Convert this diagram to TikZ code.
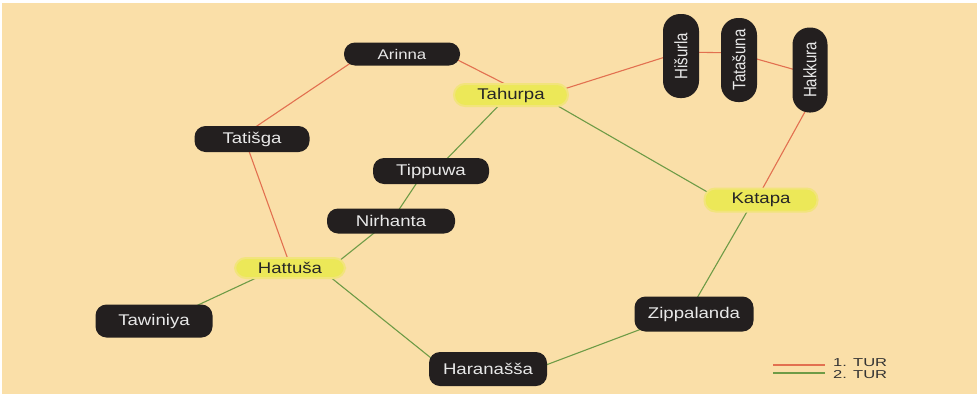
\documentclass[tikz,border=0pt]{standalone}
\usepackage{fontspec}
\usepackage{graphicx}
\setmainfont{Liberation Sans}[FakeStretch=1.2]
\newfontfamily\vfont{Liberation Sans}
\usetikzlibrary{backgrounds}
\definecolor{bg}{RGB}{250,223,168}
\definecolor{boxblk}{RGB}{35,31,31}
\definecolor{boxtxt}{RGB}{232,232,232}
\definecolor{hl}{RGB}{236,232,88}
\definecolor{tur1}{RGB}{226,112,80}
\definecolor{tur2}{RGB}{110,155,70}
\newcommand{\vtxt}[1]{\scalebox{1}[1.2]{\vfont #1}}
\newcommand{\legt}[1]{\scalebox{1.2}[1]{#1}}
\begin{document}
\begin{tikzpicture}[x=1pt,y=-1pt,
  blk/.style={rectangle, rounded corners=11pt, fill=boxblk, text=boxtxt, inner sep=0pt, font=\fontsize{15.5}{18}\selectfont},
  hlbox/.style={rectangle, rounded corners=11pt, fill=hl, draw=hl!55!bg, line width=2pt, text=black!85, inner sep=0pt, font=\fontsize{15.5}{18}\selectfont},
  vbox/.style={blk, rotate=90, rounded corners=17pt, font=\fontsize{15}{18}\selectfont},
  redline/.style={draw=tur1, line width=1.1pt},
  greenline/.style={draw=tur2, line width=1.1pt},
  legtext/.style={anchor=west, inner sep=0pt, text=black!80, font=\fontsize{11.5}{12}\selectfont},
]
\begin{pgfonlayer}{background}
\fill[white] (0,0) rectangle (977,394);
\fill[bg] (2,3) rectangle (977,394);
\end{pgfonlayer}
\useasboundingbox (0,0) rectangle (977,394);

% nodes
\node[blk, minimum width=116pt, minimum height=23pt, font=\fontsize{14}{16}\selectfont] (arinna) at (402,54) {Arinna};
\node[hlbox, minimum width=114pt, minimum height=22pt] (tahurpa) at (511,95) {Tahurpa};
\node[blk, minimum width=115pt, minimum height=26pt] (tatisga) at (252,139) {Tatišga};
\node[blk, minimum width=116pt, minimum height=26pt] (tippuwa) at (431,171) {Tippuwa};
\node[blk, minimum width=128pt, minimum height=25pt] (nirhanta) at (391,221) {Nirhanta};
\node[hlbox, minimum width=110pt, minimum height=20pt] (hattusa) at (290,268) {Hattuša};
\node[hlbox, minimum width=113pt, minimum height=23pt] (katapa) at (761,200) {Katapa};
\node[blk, minimum width=117pt, minimum height=33pt] (tawiniya) at (154,321) {Tawiniya};
\node[blk, minimum width=119pt, minimum height=35pt] (zippalanda) at (694,314) {Zippalanda};
\node[blk, minimum width=118pt, minimum height=34pt] (haranassa) at (488,369) {Haranašša};
\node[vbox, minimum width=84pt, minimum height=36pt] (hisurla) at (681,56) {\vtxt{Hišurla}};
\node[vbox, minimum width=84pt, minimum height=36pt] (tatasuna) at (739,60) {\vtxt{Tatašuna}};
\node[vbox, minimum width=85pt, minimum height=35pt] (hakkura) at (810,70) {\vtxt{Hakkura}};

% connectors
\begin{pgfonlayer}{background}
% 1. TUR
\draw[redline] ([shift={(-32,-4)}]arinna.center) -- ([shift={(-7,-5)}]tatisga.center);
\draw[redline] ([shift={(38,-3)}]arinna.center) -- ([shift={(4,-6)}]tahurpa.center);
\draw[redline] ([shift={(34,0)}]tahurpa.center) -- ([shift={(0,-4)}]hisurla.center);
\draw[redline] ([shift={(0,-4)}]hisurla.center) -- ([shift={(0,-7)}]tatasuna.center);
\draw[redline] ([shift={(0,-6)}]tatasuna.center) -- ([shift={(0,4)}]hakkura.center);
\draw[redline] ([shift={(7,20)}]hakkura.center) -- ([shift={(-2,-5)}]katapa.center);
\draw[redline] ([shift={(-7,1)}]tatisga.center) -- ([shift={(0,-3)}]hattusa.center);
% 2. TUR
\draw[greenline] ([shift={(-3,1)}]tahurpa.center) -- ([shift={(7,-3)}]tippuwa.center);
\draw[greenline] ([shift={(-9,4)}]tippuwa.center) -- ([shift={(3,-4)}]nirhanta.center);
\draw[greenline] ([shift={(-7,4)}]nirhanta.center) -- ([shift={(44,-3)}]hattusa.center);
\draw[greenline] ([shift={(33,3)}]tahurpa.center) -- ([shift={(-45,-3)}]katapa.center);
\draw[greenline] ([shift={(-21,4)}]hattusa.center) -- ([shift={(29,-9)}]tawiniya.center);
\draw[greenline] ([shift={(34,4)}]hattusa.center) -- ([shift={(-52,-7)}]haranassa.center);
\draw[greenline] ([shift={(42,2)}]haranassa.center) -- ([shift={(-34,8)}]zippalanda.center);
\draw[greenline] ([shift={(-1,-9)}]zippalanda.center) -- ([shift={(-9,3)}]katapa.center);
\end{pgfonlayer}

% legend
\node[legtext] (leg1) at (833,363) {\legt{1. TUR}};
\node[legtext] (leg2) at (833,375) {\legt{2. TUR}};
\coordinate (l1a) at (773,365);
\coordinate (l2a) at (773,373);
\draw[redline] (l1a) -- ([xshift=-8pt]leg1.west |- l1a);
\draw[greenline] (l2a) -- ([xshift=-8pt]leg2.west |- l2a);
\end{tikzpicture}
\end{document}
